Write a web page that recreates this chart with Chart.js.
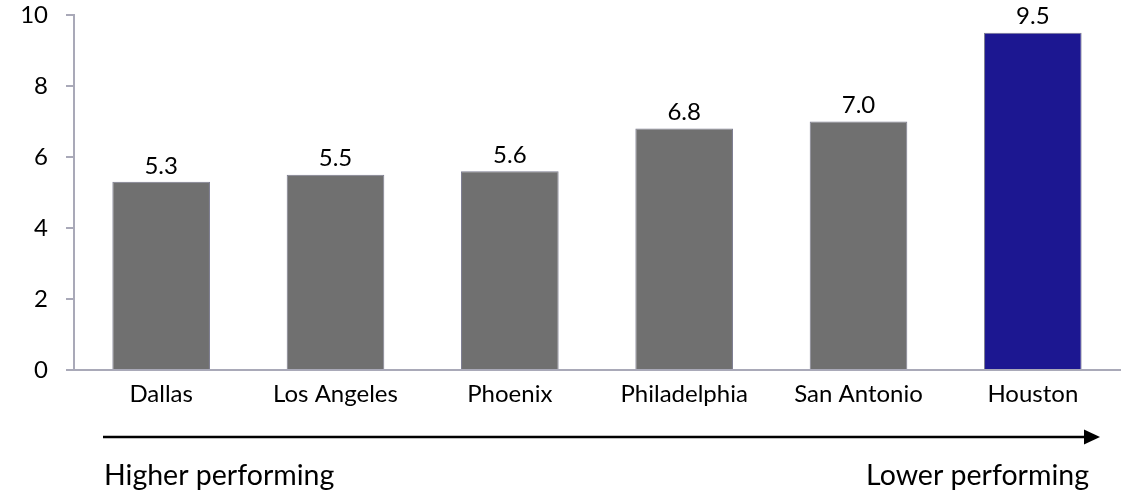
<!DOCTYPE html>
<html>
<head>
<meta charset="utf-8">
<script src="https://cdn.jsdelivr.net/npm/chart.js@4"></script>
<style>
  html, body { margin: 0; padding: 0; background: #ffffff; }
  #wrap { width: 1138px; height: 495px; position: relative; }
</style>
</head>
<body>
<div id="wrap"><canvas id="chart"></canvas></div>
<script>
// Cities ranked from higher to lower performing
const cities = ['Dallas', 'Los Angeles', 'Phoenix', 'Philadelphia', 'San Antonio', 'Houston'];
const values = [5.3, 5.5, 5.6, 6.8, 7.0, 9.5];
const yTicks = [0, 2, 4, 6, 8, 10];
const highlightCity = 'Houston';
const leftCaption = 'Higher performing';
const rightCaption = 'Lower performing';

const FONT = 'Lato, "Open Sans", sans-serif';
const GREY = '#707070';
const NAVY = '#1c1791';
const AXIS = '#a9a9b8';

// Value labels above each bar
const valueLabels = {
  id: 'valueLabels',
  afterDatasetsDraw(chart) {
    const ctx = chart.ctx;
    const meta = chart.getDatasetMeta(0);
    ctx.save();
    ctx.fillStyle = '#000000';
    ctx.font = '24px ' + FONT;
    ctx.textAlign = 'center';
    ctx.textBaseline = 'bottom';
    meta.data.forEach((bar, i) => {
      ctx.fillText(values[i].toFixed(1), bar.x, bar.y - 4);
    });
    ctx.restore();
  }
};

// Direction arrow and captions under the category axis
const rankArrow = {
  id: 'rankArrow',
  afterDraw(chart) {
    const ctx = chart.ctx;
    const y = 437;
    const x0 = 103, x1 = 1100;
    ctx.save();
    ctx.strokeStyle = '#000000';
    ctx.fillStyle = '#000000';
    ctx.lineWidth = 2.5;
    ctx.beginPath();
    ctx.moveTo(x0, y);
    ctx.lineTo(x1 - 14, y);
    ctx.stroke();
    ctx.beginPath();
    ctx.moveTo(x1, y);
    ctx.lineTo(x1 - 16, y - 7.5);
    ctx.lineTo(x1 - 16, y + 7.5);
    ctx.closePath();
    ctx.fill();

    ctx.font = '28.5px ' + FONT;
    ctx.textBaseline = 'alphabetic';
    ctx.textAlign = 'left';
    ctx.fillText(leftCaption, 104, 485);
    ctx.textAlign = 'right';
    ctx.fillText(rightCaption, 1089, 485);
    ctx.restore();
  }
};

new Chart(document.getElementById('chart'), {
  type: 'bar',
  data: {
    labels: cities,
    datasets: [{
      data: values,
      backgroundColor: cities.map(c => c === highlightCity ? NAVY : GREY),
      borderColor: '#7c7c90',
      borderWidth: 1,
      barPercentage: 0.56,
      categoryPercentage: 1.0
    }]
  },
  options: {
    responsive: true,
    maintainAspectRatio: false,
    animation: false,
    layout: { padding: { top: 15, right: 18, bottom: 0, left: 0 } },
    plugins: {
      legend: { display: false },
      tooltip: { enabled: false }
    },
    scales: {
      x: {
        grid: { display: false, drawTicks: false },
        border: { display: true, color: AXIS, width: 2 },
        ticks: { color: '#000000', font: { family: FONT, size: 24 }, padding: 10, maxRotation: 0 },
        afterFit(scale) { scale.height = 125; }
      },
      y: {
        min: 0,
        max: 10,
        afterBuildTicks(scale) { scale.ticks = yTicks.map(v => ({ value: v })); },
        grid: { drawOnChartArea: false, drawTicks: true, tickLength: 8, color: AXIS, lineWidth: 2 },
        border: { display: true, color: AXIS, width: 2 },
        ticks: { color: '#000000', font: { family: FONT, size: 24 }, padding: 18 },
        afterFit(scale) {
          scale.width = 74;
          scale.paddingTop = 0;
          scale.paddingBottom = 0;
        }
      }
    }
  },
  plugins: [valueLabels, rankArrow]
});
</script>
</body>
</html>
